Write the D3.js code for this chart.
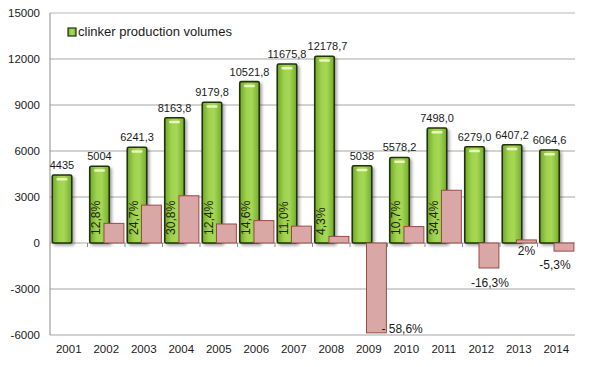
<!DOCTYPE html>
<html>
<head>
<meta charset="utf-8">
<script src="https://cdn.jsdelivr.net/npm/d3@7/dist/d3.min.js"></script>
<style>
    body{margin:0;background:#fff;}
    text{font-family:"Liberation Sans",Arial,sans-serif;fill:#1a1a1a;}
</style>
</head>
<body>
<svg id="chart" width="591" height="367"></svg>
<script>

// -- data
var years = ["2001","2002","2003","2004","2005","2006","2007","2008","2009","2010","2011","2012","2013","2014"];
var volumes = [4435, 5004, 6241.3, 8163.8, 9179.8, 10521.8, 11675.8, 12178.7, 5038, 5578.2, 7498.0, 6279.0, 6407.2, 6064.6];
// yearly change in %, 2001 has none
var changes = [null, 12.8, 24.7, 30.8, 12.4, 14.6, 11.0, 4.3, -58.6, 10.7, 34.4, -16.3, 2, -5.3];
var volumeLabels = ["4435","5004","6241,3","8163,8","9179,8","10521,8","11675,8","12178,7","5038","5578,2","7498,0","6279,0","6407,2","6064,6"];
var changeLabels = ["","12,8%","24,7%","30,8%","12,4%","14,6%","11,0%","4,3%","- 58,6%","10,7%","34,4%","-16,3%","2%","-5,3%"];
var yTicks = [-6000, -3000, 0, 3000, 6000, 9000, 12000, 15000];
var legendLabel = "clinker production volumes";

var svg = d3.select("#chart");

var plot = {left:50, right:575, top:13, bottom:335};

var x = d3.scaleBand().domain(years).range([plot.left, plot.right]).padding(0);
var y = d3.scaleLinear().domain([-6000, 15000]).range([plot.bottom, plot.top]);
var bw = x.bandwidth();

// ==================
// -- defs (gradients, shadow)
// ==================
var defs = svg.append("defs");

var gGreen = defs.append("linearGradient").attr("id","greenGrad").attr("x1","0").attr("x2","1").attr("y1","0").attr("y2","0");
gGreen.append("stop").attr("offset","0%").attr("stop-color","#72a82a");
gGreen.append("stop").attr("offset","35%").attr("stop-color","#9fd24e");
gGreen.append("stop").attr("offset","60%").attr("stop-color","#a6d856");
gGreen.append("stop").attr("offset","100%").attr("stop-color","#76ad2c");

var shadow = defs.append("filter").attr("id","shadow").attr("x","-30%").attr("y","-10%").attr("width","160%").attr("height","130%");
shadow.append("feDropShadow").attr("dx",2).attr("dy",2).attr("stdDeviation",1.4)
    .attr("flood-color","#000").attr("flood-opacity",0.35);

// ==================
// -- grid + axes
// ==================
svg.append("g").attr("class","grid").selectAll("line").data(yTicks).enter().append("line")
    .attr("x1", plot.left).attr("x2", plot.right)
    .attr("y1", function(d){return y(d);}).attr("y2", function(d){return y(d);})
    .style("stroke", function(d){return d==15000 ? "#b8b8b8" : "#a6a6a6";})
    .style("stroke-width", 1);

svg.append("line")
    .attr("x1", plot.left).attr("x2", plot.left)
    .attr("y1", y(15000)).attr("y2", y(-6000))
    .style("stroke","#8c8c8c");

svg.append("g").attr("class","yLabels").selectAll("text").data(yTicks).enter().append("text")
    .attr("x", 40)
    .attr("y", function(d){return y(d)+4;})
    .attr("text-anchor","end")
    .style("font-size","11.5px")
    .text(function(d){return d;});

// category ticks on the zero line
svg.append("g").attr("class","xTicks").selectAll("line").data(years.slice(1)).enter().append("line")
    .attr("x1", function(d){return x(d);}).attr("x2", function(d){return x(d);})
    .attr("y1", y(0)).attr("y2", y(0)+4)
    .style("stroke","#8c8c8c");

svg.append("g").attr("class","xLabels").selectAll("text").data(years).enter().append("text")
    .attr("x", function(d){return x(d)+bw/2;})
    .attr("y", 353)
    .attr("text-anchor","middle")
    .style("font-size","11.5px")
    .text(function(d){return d;});

// ==================
// -- green volume bars
// ==================
var greenX = function(i){return x(years[i]) + bw*0.06;};
var greenW = bw*0.52;

var bars = svg.append("g").attr("class","volumes").selectAll("g").data(volumes).enter().append("g");

bars.append("rect")
    .attr("x", function(d,i){return greenX(i);})
    .attr("y", function(d){return y(d);})
    .attr("width", greenW)
    .attr("height", function(d){return y(0)-y(d);})
    .attr("rx",1.5)
    .style("fill","url(#greenGrad)")
    .style("stroke","#22300f")
    .style("stroke-width",1.6)
    .style("filter","url(#shadow)");

// glossy highlight near the top of each bar
bars.append("rect")
    .attr("x", function(d,i){return greenX(i)+greenW*0.22;})
    .attr("y", function(d){return y(d)+3;})
    .attr("width", greenW*0.56)
    .attr("height", 2.5)
    .attr("rx",1.2)
    .style("fill","#f2f9c8")
    .style("opacity",0.9);

bars.append("text")
    .attr("x", function(d,i){return greenX(i)+greenW/2 + (i==7 ? 3 : 0);})
    .attr("y", function(d){return y(d)-6;})
    .attr("text-anchor","middle")
    .style("font-size","11px")
    .text(function(d,i){return volumeLabels[i];});

// vertical % labels inside the green bars (positive ones up to 2011)
svg.append("g").attr("class","pctInside").selectAll("text")
    .data(changes.map(function(d,i){return {v:d, i:i};}).filter(function(d){return d.v!=null && d.v>0 && d.i<=10;}))
    .enter().append("text")
    .attr("transform", function(d){return "translate("+(x(years[d.i])+12.5)+","+(y(0)-8)+") rotate(-90) scale(0.9,1)";})
    .style("font-size","13.5px")
    .style("fill","#1c2410")
    .text(function(d){return changeLabels[d.i];});

// ==================
// -- pink change bars (drawn in front of green)
// ==================
var pinkX = function(i){return x(years[i]) + bw*0.44;};
var pinkW = bw*0.53;

svg.append("g").attr("class","changes").selectAll("rect")
    .data(changes.map(function(d,i){return {v:d, i:i};}).filter(function(d){return d.v!=null;}))
    .enter().append("rect")
    .attr("x", function(d){return pinkX(d.i);})
    .attr("y", function(d){return y(Math.max(0, d.v*100));})
    .attr("width", pinkW)
    .attr("height", function(d){return Math.abs(y(0)-y(d.v*100));})
    .style("fill","#d9a7a5")
    .style("stroke","#9a4a47")
    .style("stroke-width",1);

// labels of the last bars sit under the axis, hand placed like in the original
var outside = {
    "2009": {dx: 5,  dy: 0,  anchor: "start", at: "bottom"},
    "2012": {dx: 1,  dy: 19, anchor: "middle", at: "bottom"},
    "2013": {dx: 0,  dy: 12, anchor: "middle", at: "zero"},
    "2014": {dx: -9, dy: 18, anchor: "middle", at: "bottom"}
};

svg.append("g").attr("class","pctOutside").selectAll("text")
    .data(changes.map(function(d,i){return {v:d, i:i};}).filter(function(d){return outside.hasOwnProperty(years[d.i]);}))
    .enter().append("text")
    .attr("x", function(d){
        var o = outside[years[d.i]];
        return pinkX(d.i) + pinkW/2 + o.dx;
    })
    .attr("y", function(d){
        var o = outside[years[d.i]];
        var base = o.at=="zero" ? y(0) : y(Math.min(0, d.v*100));
        return base + o.dy;
    })
    .attr("text-anchor", function(d){return outside[years[d.i]].anchor;})
    .style("font-size","12px")
    .text(function(d){return changeLabels[d.i];});

// ==================
// -- legend
// ==================
var legend = svg.append("g").attr("class","legend").attr("transform","translate(68,28)");
legend.append("rect")
    .attr("x",0).attr("y",0).attr("width",8).attr("height",8)
    .style("fill","url(#greenGrad)")
    .style("stroke","#22300f")
    .style("stroke-width",1.2);
legend.append("text")
    .attr("x",10).attr("y",8)
    .style("font-size","13px")
    .text(legendLabel);

</script>
</body>
</html>
